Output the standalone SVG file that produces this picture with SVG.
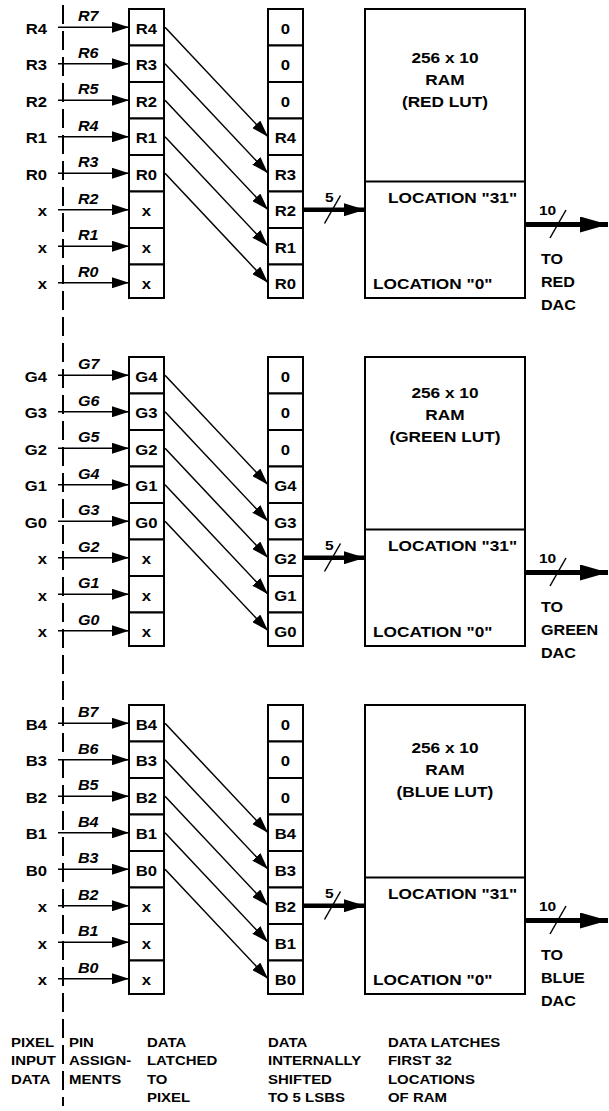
<svg xmlns="http://www.w3.org/2000/svg" width="609" height="1111" viewBox="0 0 609 1111">
<style>
text{font-family:"Liberation Sans",Arial,sans-serif;font-weight:bold;fill:#000;transform:scaleX(1.15);transform-box:fill-box}
.s{transform-origin:left center}
.m{text-anchor:middle;transform-origin:center}
.e{text-anchor:end;transform-origin:right center}
.lbl{font-size:14.5px}
.it{font-size:14px;font-style:italic}
.ram{font-size:15px}
.loc{font-size:15px}
.bus{font-size:13.5px}
.dac{font-size:14px}
.cap{font-size:13px}
.cell{fill:#fff;stroke:#000;stroke-width:2}
.box{fill:#fff;stroke:#000;stroke-width:2}
.w{stroke:#000;stroke-width:1.5;fill:none}
.a{stroke:#000;stroke-width:1.5;fill:none;marker-end:url(#ah)}
.b5{stroke:#000;stroke-width:4.5;fill:none;marker-end:url(#bh)}
.b10{stroke:#000;stroke-width:5;fill:none;marker-end:url(#oh)}
.dash{stroke:#000;stroke-width:2;stroke-dasharray:19 7;fill:none}
</style>
<defs>
<marker id="ah" markerUnits="userSpaceOnUse" markerWidth="17" markerHeight="11" refX="17" refY="5.5" orient="auto"><path d="M0,0 L17,5.5 L0,11 z" fill="#000"/></marker>
<marker id="bh" markerUnits="userSpaceOnUse" markerWidth="21" markerHeight="13" refX="21" refY="6.5" orient="auto"><path d="M0,0 L21,6.5 L0,13 z" fill="#000"/></marker>
<marker id="oh" markerUnits="userSpaceOnUse" markerWidth="28" markerHeight="16" refX="28" refY="8" orient="auto"><path d="M0,0 L28,8 L0,16 z" fill="#000"/></marker>
</defs>

<g id="connectors">
<line class="dash" x1="63" y1="5" x2="63" y2="1106"/>
<g id="red-connectors" transform="translate(0,9)">
<line class="a" x1="58" y1="18.25" x2="129" y2="18.25"/>
<line class="a" x1="58" y1="54.75" x2="129" y2="54.75"/>
<line class="a" x1="58" y1="91.25" x2="129" y2="91.25"/>
<line class="a" x1="58" y1="127.75" x2="129" y2="127.75"/>
<line class="a" x1="58" y1="164.25" x2="129" y2="164.25"/>
<line class="a" x1="58" y1="200.75" x2="129" y2="200.75"/>
<line class="a" x1="58" y1="237.25" x2="129" y2="237.25"/>
<line class="a" x1="58" y1="273.75" x2="129" y2="273.75"/>
<line class="a" x1="165" y1="18.25" x2="268" y2="127.75"/>
<line class="a" x1="165" y1="54.75" x2="268" y2="164.25"/>
<line class="a" x1="165" y1="91.25" x2="268" y2="200.75"/>
<line class="a" x1="165" y1="127.75" x2="268" y2="237.25"/>
<line class="a" x1="165" y1="164.25" x2="268" y2="273.75"/>
<line class="b5" x1="304" y1="200.75" x2="365" y2="200.75"/>
<line class="w" x1="324.5" y1="214.5" x2="340.5" y2="186.5"/>
<text class="bus s" x="325" y="193.5">5</text>
<line class="b10" x1="526" y1="215.5" x2="608" y2="215.5"/>
<line class="w" x1="550" y1="229" x2="566" y2="201"/>
<text class="bus s" x="539" y="206">10</text>
</g>
<g id="green-connectors" transform="translate(0,357)">
<line class="a" x1="58" y1="18.25" x2="129" y2="18.25"/>
<line class="a" x1="58" y1="54.75" x2="129" y2="54.75"/>
<line class="a" x1="58" y1="91.25" x2="129" y2="91.25"/>
<line class="a" x1="58" y1="127.75" x2="129" y2="127.75"/>
<line class="a" x1="58" y1="164.25" x2="129" y2="164.25"/>
<line class="a" x1="58" y1="200.75" x2="129" y2="200.75"/>
<line class="a" x1="58" y1="237.25" x2="129" y2="237.25"/>
<line class="a" x1="58" y1="273.75" x2="129" y2="273.75"/>
<line class="a" x1="165" y1="18.25" x2="268" y2="127.75"/>
<line class="a" x1="165" y1="54.75" x2="268" y2="164.25"/>
<line class="a" x1="165" y1="91.25" x2="268" y2="200.75"/>
<line class="a" x1="165" y1="127.75" x2="268" y2="237.25"/>
<line class="a" x1="165" y1="164.25" x2="268" y2="273.75"/>
<line class="b5" x1="304" y1="200.75" x2="365" y2="200.75"/>
<line class="w" x1="324.5" y1="214.5" x2="340.5" y2="186.5"/>
<text class="bus s" x="325" y="193.5">5</text>
<line class="b10" x1="526" y1="215.5" x2="608" y2="215.5"/>
<line class="w" x1="550" y1="229" x2="566" y2="201"/>
<text class="bus s" x="539" y="206">10</text>
</g>
<g id="blue-connectors" transform="translate(0,705)">
<line class="a" x1="58" y1="18.25" x2="129" y2="18.25"/>
<line class="a" x1="58" y1="54.75" x2="129" y2="54.75"/>
<line class="a" x1="58" y1="91.25" x2="129" y2="91.25"/>
<line class="a" x1="58" y1="127.75" x2="129" y2="127.75"/>
<line class="a" x1="58" y1="164.25" x2="129" y2="164.25"/>
<line class="a" x1="58" y1="200.75" x2="129" y2="200.75"/>
<line class="a" x1="58" y1="237.25" x2="129" y2="237.25"/>
<line class="a" x1="58" y1="273.75" x2="129" y2="273.75"/>
<line class="a" x1="165" y1="18.25" x2="268" y2="127.75"/>
<line class="a" x1="165" y1="54.75" x2="268" y2="164.25"/>
<line class="a" x1="165" y1="91.25" x2="268" y2="200.75"/>
<line class="a" x1="165" y1="127.75" x2="268" y2="237.25"/>
<line class="a" x1="165" y1="164.25" x2="268" y2="273.75"/>
<line class="b5" x1="304" y1="200.75" x2="365" y2="200.75"/>
<line class="w" x1="324.5" y1="214.5" x2="340.5" y2="186.5"/>
<text class="bus s" x="325" y="193.5">5</text>
<line class="b10" x1="526" y1="215.5" x2="608" y2="215.5"/>
<line class="w" x1="550" y1="229" x2="566" y2="201"/>
<text class="bus s" x="539" y="206">10</text>
</g>
</g>

<!-- RED -->
<g id="red" transform="translate(0,9)">
<g id="red-inputs">
<text class="lbl e" x="47" y="24.75">R4</text>
<text class="lbl e" x="47" y="61.25">R3</text>
<text class="lbl e" x="47" y="97.75">R2</text>
<text class="lbl e" x="47" y="134.25">R1</text>
<text class="lbl e" x="47" y="170.75">R0</text>
<text class="lbl e" x="47" y="207.25">x</text>
<text class="lbl e" x="47" y="243.75">x</text>
<text class="lbl e" x="47" y="280.25">x</text>
</g>
<g id="red-pins">
<text class="it s" x="78" y="12.25">R7</text>
<text class="it s" x="78" y="48.75">R6</text>
<text class="it s" x="78" y="85.25">R5</text>
<text class="it s" x="78" y="121.75">R4</text>
<text class="it s" x="78" y="158.25">R3</text>
<text class="it s" x="78" y="194.75">R2</text>
<text class="it s" x="78" y="231.25">R1</text>
<text class="it s" x="78" y="267.75">R0</text>
</g>
<g id="red-latch">
<g id="red-latch-0"><rect class="cell" x="129" y="0" width="35" height="36.5"/><text class="lbl m" x="146.5" y="24.75">R4</text></g>
<g id="red-latch-1"><rect class="cell" x="129" y="36.5" width="35" height="36.5"/><text class="lbl m" x="146.5" y="61.25">R3</text></g>
<g id="red-latch-2"><rect class="cell" x="129" y="73" width="35" height="36.5"/><text class="lbl m" x="146.5" y="97.75">R2</text></g>
<g id="red-latch-3"><rect class="cell" x="129" y="109.5" width="35" height="36.5"/><text class="lbl m" x="146.5" y="134.25">R1</text></g>
<g id="red-latch-4"><rect class="cell" x="129" y="146" width="35" height="36.5"/><text class="lbl m" x="146.5" y="170.75">R0</text></g>
<g id="red-latch-5"><rect class="cell" x="129" y="182.5" width="35" height="36.5"/><text class="lbl m" x="146.5" y="207.25">x</text></g>
<g id="red-latch-6"><rect class="cell" x="129" y="219" width="35" height="36.5"/><text class="lbl m" x="146.5" y="243.75">x</text></g>
<g id="red-latch-7"><rect class="cell" x="129" y="255.5" width="35" height="33.5"/><text class="lbl m" x="146.5" y="280.25">x</text></g>
</g>
<g id="red-shift">
<g id="red-shift-0"><rect class="cell" x="268" y="0" width="35" height="36.5"/><text class="lbl m" x="285.5" y="24.75">0</text></g>
<g id="red-shift-1"><rect class="cell" x="268" y="36.5" width="35" height="36.5"/><text class="lbl m" x="285.5" y="61.25">0</text></g>
<g id="red-shift-2"><rect class="cell" x="268" y="73" width="35" height="36.5"/><text class="lbl m" x="285.5" y="97.75">0</text></g>
<g id="red-shift-3"><rect class="cell" x="268" y="109.5" width="35" height="36.5"/><text class="lbl m" x="285.5" y="134.25">R4</text></g>
<g id="red-shift-4"><rect class="cell" x="268" y="146" width="35" height="36.5"/><text class="lbl m" x="285.5" y="170.75">R3</text></g>
<g id="red-shift-5"><rect class="cell" x="268" y="182.5" width="35" height="36.5"/><text class="lbl m" x="285.5" y="207.25">R2</text></g>
<g id="red-shift-6"><rect class="cell" x="268" y="219" width="35" height="36.5"/><text class="lbl m" x="285.5" y="243.75">R1</text></g>
<g id="red-shift-7"><rect class="cell" x="268" y="255.5" width="35" height="33.5"/><text class="lbl m" x="285.5" y="280.25">R0</text></g>
</g>
<g id="red-ram">
<rect class="box" x="365" y="0" width="160" height="289"/>
<line class="w" x1="365" y1="172.5" x2="525" y2="172.5" style="stroke-width:2"/>
<text class="ram m" x="445" y="54">256 x 10</text>
<text class="ram m" x="445" y="76">RAM</text>
<text class="ram m" x="445" y="98">(RED LUT)</text>
<text class="loc s" x="388" y="194.5">LOCATION "31"</text>
<text class="loc s" x="373" y="280">LOCATION "0"</text>
</g>
<g id="red-dac">
<text class="dac s" x="541" y="255">TO</text>
<text class="dac s" x="541" y="278">RED</text>
<text class="dac s" x="541" y="301">DAC</text>
</g>
</g>

<!-- GREEN -->
<g id="green" transform="translate(0,357)">
<g id="green-inputs">
<text class="lbl e" x="47" y="24.75">G4</text>
<text class="lbl e" x="47" y="61.25">G3</text>
<text class="lbl e" x="47" y="97.75">G2</text>
<text class="lbl e" x="47" y="134.25">G1</text>
<text class="lbl e" x="47" y="170.75">G0</text>
<text class="lbl e" x="47" y="207.25">x</text>
<text class="lbl e" x="47" y="243.75">x</text>
<text class="lbl e" x="47" y="280.25">x</text>
</g>
<g id="green-pins">
<text class="it s" x="78" y="12.25">G7</text>
<text class="it s" x="78" y="48.75">G6</text>
<text class="it s" x="78" y="85.25">G5</text>
<text class="it s" x="78" y="121.75">G4</text>
<text class="it s" x="78" y="158.25">G3</text>
<text class="it s" x="78" y="194.75">G2</text>
<text class="it s" x="78" y="231.25">G1</text>
<text class="it s" x="78" y="267.75">G0</text>
</g>
<g id="green-latch">
<g id="green-latch-0"><rect class="cell" x="129" y="0" width="35" height="36.5"/><text class="lbl m" x="146.5" y="24.75">G4</text></g>
<g id="green-latch-1"><rect class="cell" x="129" y="36.5" width="35" height="36.5"/><text class="lbl m" x="146.5" y="61.25">G3</text></g>
<g id="green-latch-2"><rect class="cell" x="129" y="73" width="35" height="36.5"/><text class="lbl m" x="146.5" y="97.75">G2</text></g>
<g id="green-latch-3"><rect class="cell" x="129" y="109.5" width="35" height="36.5"/><text class="lbl m" x="146.5" y="134.25">G1</text></g>
<g id="green-latch-4"><rect class="cell" x="129" y="146" width="35" height="36.5"/><text class="lbl m" x="146.5" y="170.75">G0</text></g>
<g id="green-latch-5"><rect class="cell" x="129" y="182.5" width="35" height="36.5"/><text class="lbl m" x="146.5" y="207.25">x</text></g>
<g id="green-latch-6"><rect class="cell" x="129" y="219" width="35" height="36.5"/><text class="lbl m" x="146.5" y="243.75">x</text></g>
<g id="green-latch-7"><rect class="cell" x="129" y="255.5" width="35" height="33.5"/><text class="lbl m" x="146.5" y="280.25">x</text></g>
</g>
<g id="green-shift">
<g id="green-shift-0"><rect class="cell" x="268" y="0" width="35" height="36.5"/><text class="lbl m" x="285.5" y="24.75">0</text></g>
<g id="green-shift-1"><rect class="cell" x="268" y="36.5" width="35" height="36.5"/><text class="lbl m" x="285.5" y="61.25">0</text></g>
<g id="green-shift-2"><rect class="cell" x="268" y="73" width="35" height="36.5"/><text class="lbl m" x="285.5" y="97.75">0</text></g>
<g id="green-shift-3"><rect class="cell" x="268" y="109.5" width="35" height="36.5"/><text class="lbl m" x="285.5" y="134.25">G4</text></g>
<g id="green-shift-4"><rect class="cell" x="268" y="146" width="35" height="36.5"/><text class="lbl m" x="285.5" y="170.75">G3</text></g>
<g id="green-shift-5"><rect class="cell" x="268" y="182.5" width="35" height="36.5"/><text class="lbl m" x="285.5" y="207.25">G2</text></g>
<g id="green-shift-6"><rect class="cell" x="268" y="219" width="35" height="36.5"/><text class="lbl m" x="285.5" y="243.75">G1</text></g>
<g id="green-shift-7"><rect class="cell" x="268" y="255.5" width="35" height="33.5"/><text class="lbl m" x="285.5" y="280.25">G0</text></g>
</g>
<g id="green-ram">
<rect class="box" x="365" y="0" width="160" height="289"/>
<line class="w" x1="365" y1="172.5" x2="525" y2="172.5" style="stroke-width:2"/>
<text class="ram m" x="445" y="41">256 x 10</text>
<text class="ram m" x="445" y="63">RAM</text>
<text class="ram m" x="445" y="85">(GREEN LUT)</text>
<text class="loc s" x="388" y="194.5">LOCATION "31"</text>
<text class="loc s" x="373" y="280">LOCATION "0"</text>
</g>
<g id="green-dac">
<text class="dac s" x="541" y="255">TO</text>
<text class="dac s" x="541" y="278">GREEN</text>
<text class="dac s" x="541" y="301">DAC</text>
</g>
</g>

<!-- BLUE -->
<g id="blue" transform="translate(0,705)">
<g id="blue-inputs">
<text class="lbl e" x="47" y="24.75">B4</text>
<text class="lbl e" x="47" y="61.25">B3</text>
<text class="lbl e" x="47" y="97.75">B2</text>
<text class="lbl e" x="47" y="134.25">B1</text>
<text class="lbl e" x="47" y="170.75">B0</text>
<text class="lbl e" x="47" y="207.25">x</text>
<text class="lbl e" x="47" y="243.75">x</text>
<text class="lbl e" x="47" y="280.25">x</text>
</g>
<g id="blue-pins">
<text class="it s" x="78" y="12.25">B7</text>
<text class="it s" x="78" y="48.75">B6</text>
<text class="it s" x="78" y="85.25">B5</text>
<text class="it s" x="78" y="121.75">B4</text>
<text class="it s" x="78" y="158.25">B3</text>
<text class="it s" x="78" y="194.75">B2</text>
<text class="it s" x="78" y="231.25">B1</text>
<text class="it s" x="78" y="267.75">B0</text>
</g>
<g id="blue-latch">
<g id="blue-latch-0"><rect class="cell" x="129" y="0" width="35" height="36.5"/><text class="lbl m" x="146.5" y="24.75">B4</text></g>
<g id="blue-latch-1"><rect class="cell" x="129" y="36.5" width="35" height="36.5"/><text class="lbl m" x="146.5" y="61.25">B3</text></g>
<g id="blue-latch-2"><rect class="cell" x="129" y="73" width="35" height="36.5"/><text class="lbl m" x="146.5" y="97.75">B2</text></g>
<g id="blue-latch-3"><rect class="cell" x="129" y="109.5" width="35" height="36.5"/><text class="lbl m" x="146.5" y="134.25">B1</text></g>
<g id="blue-latch-4"><rect class="cell" x="129" y="146" width="35" height="36.5"/><text class="lbl m" x="146.5" y="170.75">B0</text></g>
<g id="blue-latch-5"><rect class="cell" x="129" y="182.5" width="35" height="36.5"/><text class="lbl m" x="146.5" y="207.25">x</text></g>
<g id="blue-latch-6"><rect class="cell" x="129" y="219" width="35" height="36.5"/><text class="lbl m" x="146.5" y="243.75">x</text></g>
<g id="blue-latch-7"><rect class="cell" x="129" y="255.5" width="35" height="33.5"/><text class="lbl m" x="146.5" y="280.25">x</text></g>
</g>
<g id="blue-shift">
<g id="blue-shift-0"><rect class="cell" x="268" y="0" width="35" height="36.5"/><text class="lbl m" x="285.5" y="24.75">0</text></g>
<g id="blue-shift-1"><rect class="cell" x="268" y="36.5" width="35" height="36.5"/><text class="lbl m" x="285.5" y="61.25">0</text></g>
<g id="blue-shift-2"><rect class="cell" x="268" y="73" width="35" height="36.5"/><text class="lbl m" x="285.5" y="97.75">0</text></g>
<g id="blue-shift-3"><rect class="cell" x="268" y="109.5" width="35" height="36.5"/><text class="lbl m" x="285.5" y="134.25">B4</text></g>
<g id="blue-shift-4"><rect class="cell" x="268" y="146" width="35" height="36.5"/><text class="lbl m" x="285.5" y="170.75">B3</text></g>
<g id="blue-shift-5"><rect class="cell" x="268" y="182.5" width="35" height="36.5"/><text class="lbl m" x="285.5" y="207.25">B2</text></g>
<g id="blue-shift-6"><rect class="cell" x="268" y="219" width="35" height="36.5"/><text class="lbl m" x="285.5" y="243.75">B1</text></g>
<g id="blue-shift-7"><rect class="cell" x="268" y="255.5" width="35" height="33.5"/><text class="lbl m" x="285.5" y="280.25">B0</text></g>
</g>
<g id="blue-ram">
<rect class="box" x="365" y="0" width="160" height="289"/>
<line class="w" x1="365" y1="172.5" x2="525" y2="172.5" style="stroke-width:2"/>
<text class="ram m" x="445" y="48">256 x 10</text>
<text class="ram m" x="445" y="70">RAM</text>
<text class="ram m" x="445" y="92">(BLUE LUT)</text>
<text class="loc s" x="388" y="194.5">LOCATION "31"</text>
<text class="loc s" x="373" y="280">LOCATION "0"</text>
</g>
<g id="blue-dac">
<text class="dac s" x="541" y="255">TO</text>
<text class="dac s" x="541" y="278">BLUE</text>
<text class="dac s" x="541" y="301">DAC</text>
</g>
</g>

<g id="captions">
<text class="cap s" x="11" y="1047">PIXEL</text>
<text class="cap s" x="11" y="1065.5">INPUT</text>
<text class="cap s" x="11" y="1084">DATA</text>
<text class="cap s" x="69" y="1047">PIN</text>
<text class="cap s" x="69" y="1065.5">ASSIGN-</text>
<text class="cap s" x="69" y="1084">MENTS</text>
<text class="cap s" x="147" y="1047">DATA</text>
<text class="cap s" x="147" y="1065.5">LATCHED</text>
<text class="cap s" x="147" y="1084">TO</text>
<text class="cap s" x="147" y="1102.5">PIXEL</text>
<text class="cap s" x="268" y="1047">DATA</text>
<text class="cap s" x="268" y="1065.5">INTERNALLY</text>
<text class="cap s" x="268" y="1084">SHIFTED</text>
<text class="cap s" x="268" y="1102.5">TO 5 LSBS</text>
<text class="cap s" x="388" y="1047">DATA LATCHES</text>
<text class="cap s" x="388" y="1065.5">FIRST 32</text>
<text class="cap s" x="388" y="1084">LOCATIONS</text>
<text class="cap s" x="388" y="1102.5">OF RAM</text>
</g>
</svg>
